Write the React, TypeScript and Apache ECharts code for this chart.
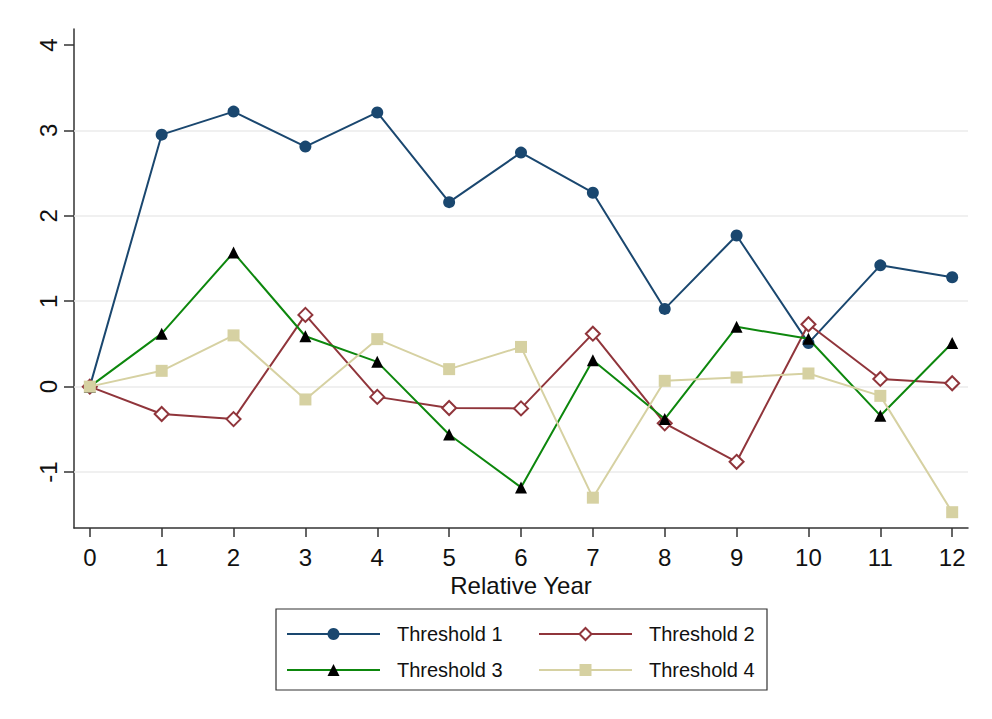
import React, { useEffect, useRef } from "react";
import * as echarts from "echarts";

// Relative years on the horizontal axis
const years = [0, 1, 2, 3, 4, 5, 6, 7, 8, 9, 10, 11, 12];
const yTicks = [-1, 0, 1, 2, 3, 4];
const gridValues = [-1, 0, 1, 2, 3];

// Estimates per threshold
const threshold1 = [0, 2.95, 3.22, 2.81, 3.21, 2.16, 2.74, 2.27, 0.91, 1.77, 0.51, 1.42, 1.28];
const threshold2 = [0, -0.32, -0.38, 0.84, -0.12, -0.25, -0.255, 0.62, -0.43, -0.88, 0.73, 0.09, 0.04];
const threshold3 = [0, 0.62, 1.57, 0.59, 0.29, -0.56, -1.18, 0.31, -0.38, 0.7, 0.56, -0.34, 0.51];
const threshold4 = [0, 0.185, 0.6, -0.15, 0.556, 0.205, 0.465, -1.3, 0.068, 0.108, 0.154, -0.108, -1.47];

const seriesNames = ["Threshold 1", "Threshold 2", "Threshold 3", "Threshold 4"];

const FONT = "'Liberation Sans', Arial, sans-serif";

const pairs = (vals: number[]) => years.map((x, i) => [x, vals[i]]);

export default function App() {
  const ref = useRef<HTMLDivElement>(null);

  useEffect(() => {
    if (!ref.current) return;
    const chart = echarts.init(ref.current, undefined, { renderer: "svg" });

    const legendPos = [
      { left: 286, top: 624 },
      { left: 538, top: 624 },
      { left: 286, top: 660 },
      { left: 538, top: 660 },
    ];

    chart.setOption({
      animation: false,
      backgroundColor: "#ffffff",
      grid: { left: 74, right: 24, top: 29, bottom: 191, containLabel: false },
      xAxis: {
        type: "value",
        min: -0.22,
        max: 12.22,
        name: "Relative Year",
        nameLocation: "middle",
        nameGap: 45,
        nameTextStyle: { fontFamily: FONT, fontSize: 24, color: "#111" },
        axisLine: { show: true, onZero: false, lineStyle: { color: "#333", width: 1.5 } },
        axisTick: { show: true, length: 9, customValues: years, lineStyle: { color: "#333", width: 1.5 } },
        axisLabel: { customValues: years, fontFamily: FONT, fontSize: 24, color: "#111", margin: 17 },
        splitLine: { show: false },
      },
      yAxis: {
        type: "value",
        min: -1.655,
        max: 4.187,
        axisLine: { show: true, onZero: false, lineStyle: { color: "#333", width: 1.5 } },
        axisTick: { show: true, length: 10, customValues: yTicks, lineStyle: { color: "#333", width: 1.5 } },
        axisLabel: { customValues: yTicks, rotate: 90, fontFamily: FONT, fontSize: 24, color: "#111", margin: 14 },
        splitLine: { show: false },
      },
      legend: seriesNames.map((n, i) => ({
        data: [n],
        left: legendPos[i].left,
        top: legendPos[i].top,
        orient: "horizontal",
        padding: 0,
        itemWidth: 93,
        itemHeight: 15,
        selectedMode: false,
        textStyle: { fontFamily: FONT, fontSize: 20, color: "#111", padding: [0, 0, 0, 12] },
      })),
      graphic: [
        {
          type: "rect",
          shape: { x: 276, y: 609, width: 491, height: 81 },
          style: { fill: "none", stroke: "#333", lineWidth: 1.2 },
          silent: true,
        },
      ],
      series: [
        {
          name: seriesNames[0],
          type: "line",
          data: pairs(threshold1),
          symbol: "circle",
          symbolSize: 12,
          lineStyle: { color: "#1a476f", width: 2 },
          itemStyle: { color: "#1a476f" },
          z: 2,
          markLine: {
            silent: true,
            symbol: ["none", "none"],
            label: { show: false },
            z: 1,
            lineStyle: { color: "#ebebeb", width: 1.5, type: "solid" },
            data: gridValues.map((v) => ({ yAxis: v })),
          },
        },
        {
          name: seriesNames[1],
          type: "line",
          data: pairs(threshold2),
          symbol: "emptyDiamond",
          symbolSize: 14,
          lineStyle: { color: "#90353b", width: 2 },
          itemStyle: { color: "#90353b", borderWidth: 2 },
          z: 3,
        },
        {
          name: seriesNames[2],
          type: "line",
          data: pairs(threshold3),
          symbol: "triangle",
          symbolSize: 12,
          lineStyle: { color: "#0d870d", width: 2 },
          itemStyle: { color: "#000000" },
          z: 4,
        },
        {
          name: seriesNames[3],
          type: "line",
          data: pairs(threshold4),
          symbol: "rect",
          symbolSize: 12,
          lineStyle: { color: "#d6d1a2", width: 2 },
          itemStyle: { color: "#d6d1a2" },
          z: 5,
        },
      ],
    });

    return () => chart.dispose();
  }, []);

  return (
    <div
      ref={ref}
      style={{ position: "absolute", left: 0, top: 0, width: 992, height: 719, background: "#fff" }}
    />
  );
}
